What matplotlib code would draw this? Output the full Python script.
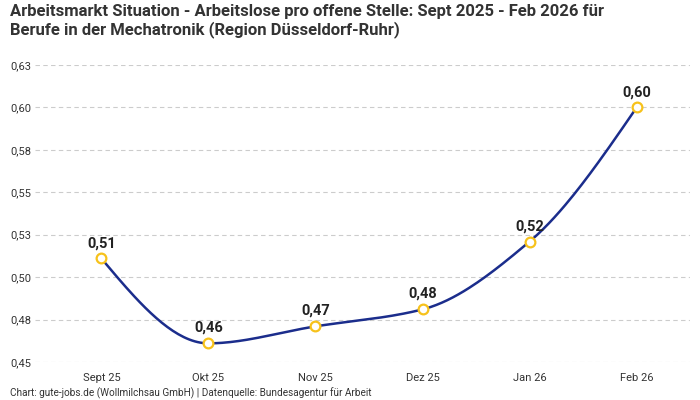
import numpy as np
import matplotlib
matplotlib.use('Agg')
import matplotlib.pyplot as plt
from matplotlib.ticker import FuncFormatter

# ── Data ──
months = ['Sept 25', 'Okt 25', 'Nov 25', 'Dez 25', 'Jan 26', 'Feb 26']
ratio  = [0.511, 0.461, 0.471, 0.481, 0.521, 0.600]
labels = ['0,51', '0,46', '0,47', '0,48', '0,52', '0,60']
yticks = [0.45, 0.475, 0.50, 0.525, 0.55, 0.575, 0.60, 0.625]

TITLE  = ('Arbeitsmarkt Situation - Arbeitslose pro offene Stelle: Sept 2025 - Feb 2026 für\n'
          'Berufe in der Mechatronik (Region Düsseldorf-Ruhr)')
SOURCE = 'Chart: gute-jobs.de (Wollmilchsau GmbH) | Datenquelle: Bundesagentur für Arbeit'

LINE_COL   = '#1b2d8c'
MARKER_COL = '#f7c21b'

plt.rcParams['font.family'] = ['Roboto', 'DejaVu Sans']


def monotone_curve(x, y, n=40):
    # monotone cubic (Fritsch-Carlson style) for the smoothed line
    x = np.asarray(x, float); y = np.asarray(y, float)
    h = np.diff(x); d = np.diff(y) / h
    m = np.zeros_like(y)
    for i in range(1, len(y) - 1):
        if d[i - 1] * d[i] <= 0:
            m[i] = 0
        else:
            m[i] = 3 * (h[i - 1] + h[i]) / ((2 * h[i] + h[i - 1]) / d[i - 1] + (h[i] + 2 * h[i - 1]) / d[i])
    m[0] = (3 * d[0] - m[1]) / 2
    m[-1] = (3 * d[-1] - m[-2]) / 2
    xs, ys = [], []
    for i in range(len(h)):
        t = np.linspace(0, 1, n)
        h00 = 2 * t**3 - 3 * t**2 + 1
        h10 = t**3 - 2 * t**2 + t
        h01 = -2 * t**3 + 3 * t**2
        h11 = t**3 - t**2
        xs.extend(x[i] + t * h[i])
        ys.extend(h00 * y[i] + h10 * h[i] * m[i] + h01 * y[i + 1] + h11 * h[i] * m[i + 1])
    return np.array(xs), np.array(ys)


def fmt(v, pos):
    return f'{np.floor(v * 100 + 0.5 + 1e-9) / 100:.2f}'.replace('.', ',')


xpos = np.arange(len(months))
cx, cy = monotone_curve(xpos, ratio)

fig = plt.figure(figsize=(7, 4), dpi=100)
ax = fig.add_axes([0.05, 0.095, 0.936, 0.7425])

ax.plot(cx, cy, color=LINE_COL, linewidth=1.8, zorder=2)
ax.plot(xpos, ratio, 'o', markersize=7, markerfacecolor='white',
        markeredgecolor=MARKER_COL, markeredgewidth=1.6, zorder=3)

for x, y, lab in zip(xpos, ratio, labels):
    ax.annotate(lab, (x, y), xytext=(0, 6), textcoords='offset points',
                ha='center', va='bottom', fontsize=10.5, fontweight='bold', color='#222222')

ax.set_xlim(-0.62, 5.5)
ax.set_ylim(0.45, 0.625)
ax.set_xticks(xpos)
ax.set_xticklabels(months)
ax.set_yticks(yticks)
ax.yaxis.set_major_formatter(FuncFormatter(fmt))

ax.tick_params(axis='both', length=0, labelsize=8, labelcolor='#333333')
ax.tick_params(axis='x', pad=8)
ax.tick_params(axis='y', pad=18)
for t in ax.get_yticklabels():
    t.set_horizontalalignment('left')

ax.grid(axis='y', color='#cccccc', linestyle=(0, (4, 3)), linewidth=0.8)
ax.set_axisbelow(True)
for s in ax.spines.values():
    s.set_visible(False)

fig.text(0.014, 0.99, TITLE, ha='left', va='top', fontsize=12,
         fontweight='bold', color='#333333', linespacing=1.15)
fig.text(0.014, 0.003, SOURCE, ha='left', va='bottom', fontsize=7.2, color='#333333')

fig.savefig('out.png', dpi=100)
